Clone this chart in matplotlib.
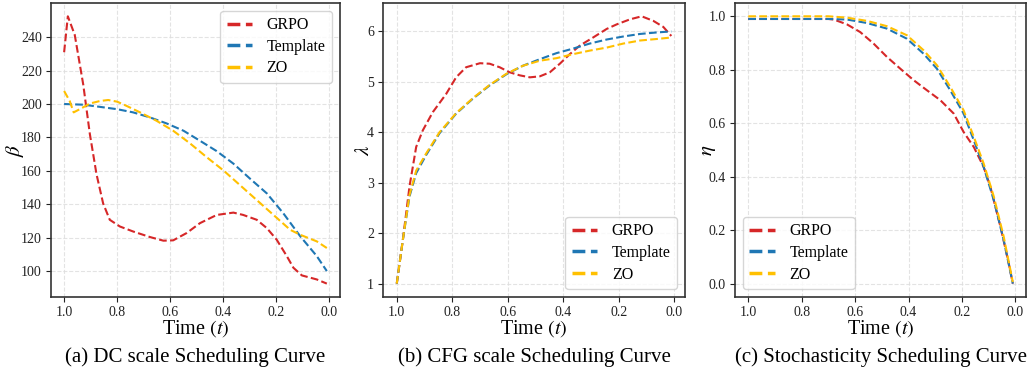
import matplotlib
matplotlib.use("Agg")
import matplotlib.pyplot as plt

plt.rcParams['font.family'] = ['Liberation Serif', 'DejaVu Serif']
plt.rcParams['mathtext.fontset'] = 'stix'

RED = '#d62728'
BLUE = '#1f77b4'
YELLOW = '#ffc000'

# (a) DC scale
a_grpo_t = [1.0, 0.986, 0.96, 0.928, 0.903, 0.878, 0.853, 0.828, 0.79, 0.74, 0.677, 0.626,
            0.589, 0.538, 0.488, 0.425, 0.362, 0.325, 0.274, 0.236, 0.199, 0.161, 0.136,
            0.104, 0.048, 0.01]
a_grpo = [231, 252.5, 241.4, 211.7, 182, 158, 140.5, 130.7, 126.7, 123.7, 120.4, 118.2,
          118.4, 122.8, 128.7, 133.6, 135, 133.6, 130.7, 125.7, 118.8, 109, 102, 97.4, 95, 92.5]
a_tmpl_t = [1.0, 0.928, 0.865, 0.8, 0.74, 0.677, 0.614, 0.55, 0.488, 0.425, 0.362, 0.3,
            0.236, 0.174, 0.11, 0.048, 0.01]
a_tmpl = [200, 199.6, 198.3, 196.9, 195, 192, 188.4, 184, 178, 171.8, 164.3, 155.4,
          146.5, 134.6, 120.8, 109, 100]
a_zo_t = [1.0, 0.979, 0.964, 0.94, 0.903, 0.865, 0.834, 0.8, 0.765, 0.714, 0.652, 0.589,
          0.526, 0.463, 0.4, 0.337, 0.274, 0.211, 0.148, 0.11, 0.048, 0.01]
a_zo = [207.8, 201.8, 195, 197, 200.3, 201.8, 202.4, 201.4, 198.9, 195, 190, 184,
        176.5, 168.2, 160.3, 151.4, 142.5, 133.6, 124.7, 121.7, 117.8, 113.8]

# (b) CFG scale
b_grpo_t = [1.0, 0.978, 0.954, 0.93, 0.906, 0.87, 0.822, 0.786, 0.75, 0.70, 0.665, 0.629,
            0.593, 0.557, 0.52, 0.484, 0.448, 0.412, 0.376, 0.34, 0.292, 0.243, 0.207,
            0.159, 0.117, 0.075, 0.039, 0.01]
b_grpo = [1.0, 1.87, 2.93, 3.71, 4.04, 4.40, 4.76, 5.09, 5.29, 5.37, 5.36, 5.29,
          5.19, 5.13, 5.09, 5.11, 5.19, 5.36, 5.55, 5.72, 5.88, 6.05, 6.14,
          6.24, 6.30, 6.21, 6.09, 5.91]
b_tmpl_t = [1.0, 0.978, 0.954, 0.93, 0.894, 0.846, 0.786, 0.725, 0.665, 0.605, 0.545,
            0.484, 0.424, 0.364, 0.304, 0.243, 0.183, 0.123, 0.063, 0.01]
b_tmpl = [1.0, 1.87, 2.73, 3.19, 3.55, 3.98, 4.37, 4.67, 4.93, 5.15, 5.32,
          5.45, 5.57, 5.66, 5.76, 5.84, 5.90, 5.95, 5.98, 6.0]
b_zo_t = [1.0, 0.978, 0.954, 0.93, 0.894, 0.846, 0.786, 0.725, 0.665, 0.605, 0.545,
          0.484, 0.424, 0.364, 0.304, 0.243, 0.183, 0.123, 0.063, 0.01]
b_zo = [1.0, 1.87, 2.76, 3.24, 3.58, 4.00, 4.38, 4.68, 4.94, 5.16, 5.32,
        5.42, 5.47, 5.55, 5.62, 5.68, 5.76, 5.82, 5.85, 5.88]

# (c) Stochasticity
c_grpo_t = [1.0, 0.9, 0.8, 0.7, 0.68, 0.631, 0.581, 0.531, 0.481, 0.431, 0.381, 0.331,
            0.281, 0.231, 0.194, 0.156, 0.119, 0.094, 0.056, 0.025, 0.01]
c_grpo = [0.99, 0.99, 0.99, 0.99, 0.988, 0.97, 0.941, 0.898, 0.848, 0.804, 0.761, 0.723,
          0.686, 0.636, 0.567, 0.511, 0.436, 0.362, 0.212, 0.075, 0.0]
c_tmpl_t = [1.0, 0.9, 0.8, 0.7, 0.631, 0.556, 0.481, 0.406, 0.344, 0.294, 0.244, 0.194,
            0.156, 0.119, 0.081, 0.044, 0.01]
c_tmpl = [0.99, 0.99, 0.99, 0.99, 0.988, 0.975, 0.954, 0.916, 0.86, 0.804, 0.723, 0.636,
          0.536, 0.436, 0.312, 0.162, 0.0]
c_zo_t = [1.0, 0.9, 0.8, 0.7, 0.631, 0.556, 0.481, 0.406, 0.344, 0.294, 0.244, 0.194,
          0.156, 0.119, 0.081, 0.044, 0.01]
c_zo = [1.0, 1.0, 1.0, 1.0, 0.995, 0.983, 0.963, 0.929, 0.873, 0.817, 0.736, 0.648,
        0.549, 0.449, 0.325, 0.175, 0.006]

labels = ['GRPO', 'Template', 'ZO']
panels = [
    dict(series=[(a_grpo_t, a_grpo), (a_tmpl_t, a_tmpl), (a_zo_t, a_zo)],
         ylabel=r'$\beta$', ylx=-0.085, loc='upper right',
         yticks=[100, 120, 140, 160, 180, 200, 220, 240],
         caption='(a) DC scale Scheduling Curve', pos=[0.0496, 0.193, 0.2811, 0.799]),
    dict(series=[(b_grpo_t, b_grpo), (b_tmpl_t, b_tmpl), (b_zo_t, b_zo)],
         ylabel=r'$\lambda$', ylx=-0.03, loc='lower right', yticks=[1, 2, 3, 4, 5, 6],
         caption='(b) CFG scale Scheduling Curve', pos=[0.3726, 0.193, 0.2938, 0.799]),
    dict(series=[(c_grpo_t, c_grpo), (c_tmpl_t, c_tmpl), (c_zo_t, c_zo)],
         ylabel=r'$\eta$', ylx=-0.06, loc='lower left',
         yticks=[0.0, 0.2, 0.4, 0.6, 0.8, 1.0],
         caption='(c) Stochasticity Scheduling Curve', pos=[0.715, 0.193, 0.2831, 0.799]),
]

fig = plt.figure(figsize=(10.28, 3.68), dpi=100)
for p in panels:
    ax = fig.add_axes(p['pos'])
    for (t, v), lab, col in zip(p['series'], labels, [RED, BLUE, YELLOW]):
        ax.plot(t, v, '--', color=col, lw=1.5, label=lab)
    ax.invert_xaxis()
    ax.set_xticks([1.0, 0.8, 0.6, 0.4, 0.2, 0.0])
    ax.set_yticks(p['yticks'])
    ax.tick_params(labelsize=10, colors='#222222', length=3.5, pad=3)
    ax.grid(True, linestyle='--', color='#dddddd', lw=0.8, alpha=0.8)
    for s in ax.spines.values():
        s.set_color('#333333')
        s.set_linewidth(1.2)
    ax.set_xlabel(r'Time $(t)$', fontsize=14.5)
    ax.xaxis.set_label_coords(0.5, -0.072)
    ax.set_ylabel(p['ylabel'], fontsize=15)
    ax.yaxis.set_label_coords(p['ylx'], 0.5)
    leg = ax.legend(loc=p['loc'], fontsize=11.5, handlelength=1.6, borderpad=0.4,
                    labelspacing=0.35, handletextpad=0.9)
    leg.get_frame().set_edgecolor('#cccccc')
    for ln in leg.get_lines():
        ln.set_linewidth(2.5)
    x0 = p['pos'][0] + p['pos'][2] / 2
    fig.text(x0, 0.0163, p['caption'], ha='center', va='baseline', fontsize=15)

fig.savefig('out.png', dpi=100)
